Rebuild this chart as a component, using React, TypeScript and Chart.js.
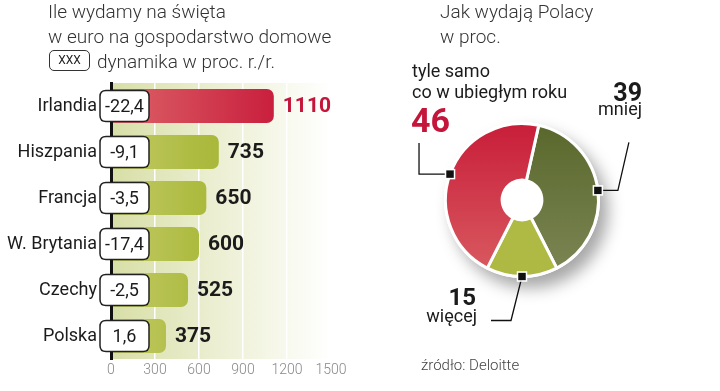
import React, { useEffect, useRef } from 'react';
import { Chart, registerables } from 'chart.js';
Chart.register(...registerables);

// ---- data: left chart ----
const countries = ['Irlandia', 'Hiszpania', 'Francja', 'W. Brytania', 'Czechy', 'Polska'];
const spending = [1110, 735, 650, 600, 525, 375];
const dynamics = ['-22,4', '-9,1', '-3,5', '-17,4', '-2,5', '1,6'];
const xTickValues = [0, 300, 600, 900, 1200, 1500];

// ---- data: right chart ----
const shareLabels = ['mniej', 'więcej', 'tyle samo'];
const shareValues = [39, 15, 46];

const FONT = 'Roboto, "Noto Sans", sans-serif';

type TProps = {
  x: number; base: number; size: number; weight?: number; color?: string;
  align?: 'left' | 'right'; children: React.ReactNode;
};
const T = ({ x, base, size, weight = 400, color = '#222', align = 'left', children }: TProps) => {
  const style: React.CSSProperties = {
    position: 'absolute',
    top: base - 0.842 * size,
    fontFamily: FONT,
    fontSize: size,
    fontWeight: weight,
    lineHeight: `${size}px`,
    color,
    whiteSpace: 'nowrap',
  };
  if (align === 'left') style.left = x; else style.right = 720 - x;
  return <div style={style}>{children}</div>;
};

function BarChart() {
  const ref = useRef<HTMLCanvasElement>(null);
  useEffect(() => {
    const canvas = ref.current!;
    const bgPlugin = {
      id: 'plotBg',
      beforeDraw(chart: any) {
        const { ctx, chartArea: a } = chart;
        const g = ctx.createLinearGradient(a.left, 0, a.right, 0);
        g.addColorStop(0, '#d8dea6');
        g.addColorStop(0.45, '#ebeed0');
        g.addColorStop(1, '#ffffff');
        ctx.save();
        ctx.fillStyle = g;
        ctx.fillRect(a.left, a.top, a.right - a.left, a.bottom - a.top);
        ctx.restore();
      },
    };
    const labelPlugin = {
      id: 'barLabels',
      afterDraw(chart: any) {
        const { ctx } = chart;
        const meta = chart.getDatasetMeta(0);
        ctx.save();
        meta.data.forEach((el: any, i: number) => {
          // value label
          ctx.font = `bold 21px ${FONT}`;
          ctx.fillStyle = i === 0 ? '#c4163a' : '#1b1b1b';
          ctx.textAlign = 'left';
          ctx.textBaseline = 'middle';
          ctx.fillText(String(spending[i]), el.x + 9, el.y + 1);
          // dynamics box
          const bx = 100, bw = 49, bh = 31, r = 6;
          const by = el.y - bh / 2;
          ctx.beginPath();
          ctx.moveTo(bx + r, by);
          ctx.lineTo(bx + bw - r, by);
          ctx.quadraticCurveTo(bx + bw, by, bx + bw, by + r);
          ctx.lineTo(bx + bw, by + bh - r);
          ctx.quadraticCurveTo(bx + bw, by + bh, bx + bw - r, by + bh);
          ctx.lineTo(bx + r, by + bh);
          ctx.quadraticCurveTo(bx, by + bh, bx, by + bh - r);
          ctx.lineTo(bx, by + r);
          ctx.quadraticCurveTo(bx, by, bx + r, by);
          ctx.closePath();
          ctx.fillStyle = '#ffffff';
          ctx.fill();
          ctx.lineWidth = 1.5;
          ctx.strokeStyle = '#222';
          ctx.stroke();
          ctx.font = `400 18px ${FONT}`;
          ctx.fillStyle = '#1b1b1b';
          ctx.textAlign = 'center';
          ctx.fillText(dynamics[i], bx + bw / 2, el.y + 1);
        });
        ctx.restore();
      },
    };
    const chart = new Chart(canvas, {
      type: 'bar',
      data: {
        labels: countries,
        datasets: [{
          data: spending,
          barPercentage: 0.74,
          categoryPercentage: 1,
          borderRadius: 7,
          backgroundColor: (c: any) => {
            const a = c.chart.chartArea;
            if (!a) return '#aab83c';
            const g = c.chart.ctx.createLinearGradient(a.left, 0, a.left + 170, 0);
            if (c.dataIndex === 0) {
              g.addColorStop(0, '#dc6468');
              g.addColorStop(1, '#c81c3c');
            } else {
              g.addColorStop(0, '#c3cb68');
              g.addColorStop(0.5, '#adbb40');
              g.addColorStop(1, '#9fb130');
            }
            return g;
          },
        }],
      },
      options: {
        indexAxis: 'y',
        responsive: false,
        animation: false,
        layout: { padding: { left: 0, right: 49, top: 83, bottom: 12 } },
        plugins: { legend: { display: false }, tooltip: { enabled: false } },
        scales: {
          x: {
            min: 0, max: 1500,
            afterFit: (s: any) => { s.height = 20; },
            afterBuildTicks: (s: any) => { s.ticks = xTickValues.map((v) => ({ value: v })); },
            grid: { color: '#ffffff', lineWidth: 1.5, drawTicks: false },
            border: { display: false },
            ticks: {
              padding: 3, color: '#888',
              font: { family: FONT, size: 14, weight: 300 },
              callback: (v: any) => String(v),
            },
          },
          y: {
            afterFit: (s: any) => { s.width = 111; },
            grid: { display: false, drawTicks: false },
            border: { display: true, color: '#111', width: 3, z: 1 },
            ticks: { padding: 14, color: '#1b1b1b', font: { family: FONT, size: 18 } },
          },
        },
      },
      plugins: [bgPlugin, labelPlugin],
    } as any);
    return () => chart.destroy();
  }, []);
  return <canvas ref={ref} width={380} height={391} style={{ position: 'absolute', left: 0, top: 0, width: 380, height: 391 }} />;
}

function ShareChart() {
  const ref = useRef<HTMLCanvasElement>(null);
  useEffect(() => {
    const canvas = ref.current!;
    const total = shareValues.reduce((s, v) => s + v, 0);
    const rotation = 180 - ((shareValues[0] + shareValues[1] / 2) / total) * 360;
    const shadowPlugin = {
      id: 'shadow',
      beforeDatasetsDraw(chart: any) {
        const el = chart.getDatasetMeta(0).data[0];
        if (!el) return;
        const { ctx } = chart;
        ctx.save();
        ctx.shadowColor = 'rgba(0,0,0,0.35)';
        ctx.shadowBlur = 16;
        ctx.shadowOffsetX = 8;
        ctx.shadowOffsetY = 10;
        ctx.beginPath();
        ctx.arc(el.x, el.y, el.outerRadius + 1.5, 0, Math.PI * 2);
        ctx.fillStyle = '#ffffff';
        ctx.fill();
        ctx.restore();
      },
    };
    const leaderPlugin = {
      id: 'leaders',
      afterDatasetsDraw(chart: any) {
        const { ctx } = chart;
        const els = chart.getDatasetMeta(0).data;
        const routes = [
          [[20, 0], [31, -48]],
          [[-11, 44], [-31, 44]],
          [[-31, 0], [-31, -31]],
        ];
        ctx.save();
        els.forEach((el: any, i: number) => {
          const mid = (el.startAngle + el.endAngle) / 2;
          const mx = el.x + Math.cos(mid) * el.outerRadius;
          const my = el.y + Math.sin(mid) * el.outerRadius;
          ctx.beginPath();
          ctx.moveTo(mx, my);
          routes[i].forEach(([dx, dy]) => ctx.lineTo(mx + dx, my + dy));
          ctx.strokeStyle = '#111';
          ctx.lineWidth = 1.3;
          ctx.stroke();
          ctx.fillStyle = '#111';
          ctx.strokeStyle = '#fff';
          ctx.lineWidth = 1.5;
          ctx.fillRect(mx - 4, my - 4, 8, 8);
          ctx.strokeRect(mx - 4.5, my - 4.5, 9, 9);
        });
        ctx.restore();
      },
    };
    const chart = new Chart(canvas, {
      type: 'doughnut',
      data: {
        labels: shareLabels,
        datasets: [{
          data: shareValues,
          borderColor: '#ffffff',
          borderWidth: 3,
          backgroundColor: (c: any) => {
            const a = c.chart.chartArea;
            const i = c.dataIndex;
            if (!a) return ['#6b7640', '#b1bc45', '#cf3446'][i];
            const g = c.chart.ctx.createLinearGradient(0, a.top, 0, a.bottom);
            if (i === 0) { g.addColorStop(0, '#59672b'); g.addColorStop(1, '#7c8655'); }
            else if (i === 1) { g.addColorStop(0, '#b3bd48'); g.addColorStop(1, '#adb943'); }
            else { g.addColorStop(0, '#c81d39'); g.addColorStop(1, '#d95c61'); }
            return g;
          },
        }],
      },
      options: {
        responsive: false,
        animation: false,
        rotation,
        cutout: '26%',
        layout: { padding: { left: 64, right: 120, top: 122, bottom: 113 } },
        plugins: { legend: { display: false }, tooltip: { enabled: false } },
      },
      plugins: [shadowPlugin, leaderPlugin],
    } as any);
    return () => chart.destroy();
  }, []);
  return <canvas ref={ref} width={340} height={391} style={{ position: 'absolute', left: 380, top: 0, width: 340, height: 391 }} />;
}

export default function App() {
  return (
    <div style={{ position: 'fixed', left: 0, top: 0, width: 720, height: 391, background: '#fff', overflow: 'hidden' }}>
      <BarChart />
      <ShareChart />
      {/* left titles */}
      <T x={48} base={18} size={19} weight={300} color="#333">Ile wydamy na święta</T>
      <T x={48} base={43} size={19} weight={300} color="#333">w euro na gospodarstwo domowe</T>
      <div style={{
        position: 'absolute', left: 49, top: 50, width: 41, height: 21, boxSizing: 'border-box',
        border: '1.3px solid #333', borderRadius: 5, fontFamily: FONT, fontSize: 12, lineHeight: '19px',
        textAlign: 'center', color: '#222',
      }}>XXX</div>
      <T x={97} base={68} size={19} weight={300} color="#333">dynamika w proc. r./r.</T>
      {/* right titles */}
      <T x={440} base={18} size={19} weight={300} color="#333">Jak wydają Polacy</T>
      <T x={440} base={43} size={19} weight={300} color="#333">w proc.</T>
      <T x={412} base={77} size={18} color="#1b1b1b">tyle samo</T>
      <T x={412} base={98} size={18} color="#1b1b1b">co w ubiegłym roku</T>
      <T x={411} base={132} size={34} weight={700} color="#c4163a">{shareValues[2]}</T>
      <T x={642} base={101} size={25} weight={700} color="#1b1b1b" align="right">{shareValues[0]}</T>
      <T x={642} base={115} size={18} color="#1b1b1b" align="right">{shareLabels[0]}</T>
      <T x={476} base={305} size={24} weight={700} color="#1b1b1b" align="right">{shareValues[1]}</T>
      <T x={477} base={322} size={18} color="#1b1b1b" align="right">{shareLabels[1]}</T>
      <T x={421} base={371} size={15} weight={300} color="#444">źródło: Deloitte</T>
    </div>
  );
}
